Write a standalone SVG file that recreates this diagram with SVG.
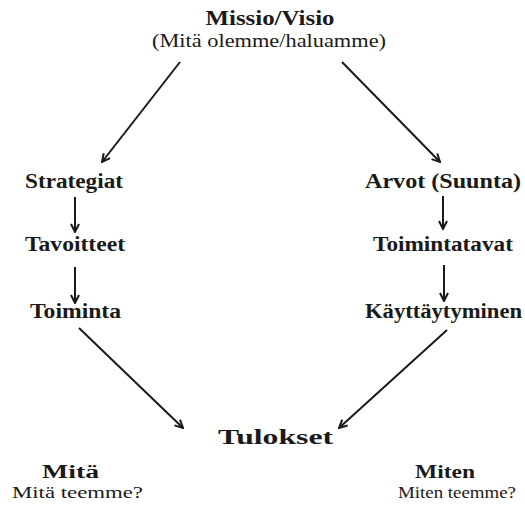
<svg xmlns="http://www.w3.org/2000/svg" width="525" height="507" viewBox="0 0 525 507">
  <style>
    text { font-family: "Liberation Serif", "Times New Roman", serif; fill: #1a1a1a; text-anchor: middle; }
    .b { font-weight: bold; font-size: 20px; }
    .r { font-size: 19px; }
    .bs { font-weight: bold; font-size: 18px; }
    .rs { font-size: 17px; }
    .arr { stroke: #1a1a1a; stroke-width: 2; fill: none; marker-end: url(#head); }
  </style>
  <defs>
    <marker id="head" viewBox="0 0 10 10" refX="9" refY="5" markerWidth="5" markerHeight="5" orient="auto" markerUnits="strokeWidth">
      <path d="M1,1 L9,5 L1,9" fill="none" stroke="#1a1a1a" stroke-width="2" stroke-linejoin="miter"/>
    </marker>
  </defs>
  <rect width="525" height="507" fill="#ffffff"/>

  <g id="connectors">
    <line class="arr" x1="180" y1="62" x2="102" y2="162"/>
    <line class="arr" x1="342" y1="62" x2="440" y2="162"/>
    <line class="arr" x1="75" y1="197" x2="75" y2="232"/>
    <line class="arr" x1="75" y1="267" x2="75" y2="303"/>
    <line class="arr" x1="443" y1="196" x2="443" y2="229"/>
    <line class="arr" x1="444" y1="265" x2="444" y2="301"/>
    <line class="arr" x1="79" y1="328" x2="183" y2="428"/>
    <line class="arr" x1="447" y1="330" x2="339" y2="428"/>
  </g>

  <g id="missio">
    <text class="b" x="270" y="25" textLength="129" lengthAdjust="spacingAndGlyphs">Missio/Visio</text>
    <text class="r" x="269" y="47" textLength="234" lengthAdjust="spacingAndGlyphs">(Mitä olemme/haluamme)</text>
  </g>
  <g id="strategiat">
    <text class="b" x="74" y="188" textLength="98" lengthAdjust="spacingAndGlyphs">Strategiat</text>
  </g>
  <g id="tavoitteet">
    <text class="b" x="75" y="251" textLength="100" lengthAdjust="spacingAndGlyphs">Tavoitteet</text>
  </g>
  <g id="toiminta">
    <text class="b" x="75.5" y="318" textLength="91" lengthAdjust="spacingAndGlyphs">Toiminta</text>
  </g>
  <g id="arvot">
    <text class="b" x="443" y="188" textLength="156" lengthAdjust="spacingAndGlyphs">Arvot (Suunta)</text>
  </g>
  <g id="toimintatavat">
    <text class="b" x="443" y="251" textLength="140" lengthAdjust="spacingAndGlyphs">Toimintatavat</text>
  </g>
  <g id="kayttaytyminen">
    <text class="b" x="443.5" y="318" textLength="157" lengthAdjust="spacingAndGlyphs">Käyttäytyminen</text>
  </g>
  <g id="tulokset">
    <text class="b" x="275.5" y="444" textLength="115" lengthAdjust="spacingAndGlyphs">Tulokset</text>
  </g>
  <g id="mita">
    <text class="bs" x="70.5" y="478" textLength="57" lengthAdjust="spacingAndGlyphs">Mitä</text>
    <text class="rs" x="77.5" y="498" textLength="131" lengthAdjust="spacingAndGlyphs">Mitä teemme?</text>
  </g>
  <g id="miten">
    <text class="bs" x="445" y="478" textLength="60" lengthAdjust="spacingAndGlyphs">Miten</text>
    <text class="rs" x="457" y="498" textLength="118" lengthAdjust="spacingAndGlyphs">Miten teemme?</text>
  </g>
</svg>
